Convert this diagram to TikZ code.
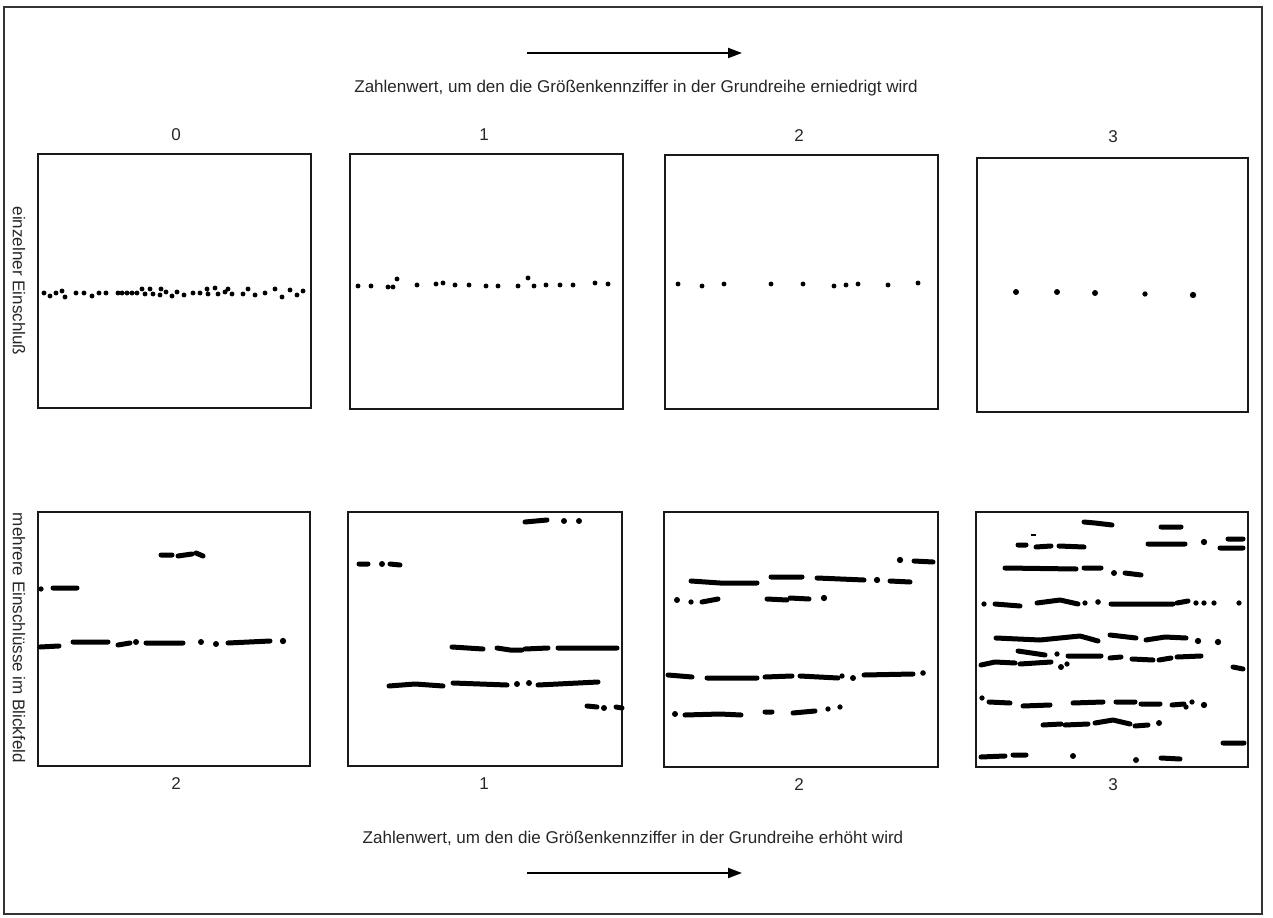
\documentclass[tikz,border=0pt]{standalone}
\usepackage{fontspec}
\setmainfont{Liberation Sans}
\usepackage{tikz}
\usetikzlibrary{arrows.meta}

\tikzset{
  rahmen/.style={draw=black!80, line width=0.04cm},
  feld/.style={draw=black!90, line width=0.05cm},
  zeile/.style={line width=0.1cm, line cap=round, line join=round},
  pfeil/.style={line width=0.04cm, -{Triangle[length=2.8mm,width=2mm]}},
  beschr/.style={text=black!85, font=\fontsize{9.7}{11}\selectfont, inner sep=0pt},
}

\begin{document}
\begin{tikzpicture}[x=0.02cm, y=-0.02cm]
\useasboundingbox (0,0) rectangle (1273,918);
\draw[rahmen] (4,7) rectangle (1262,914);
% Pfeile und Achsentexte
\coordinate (pfeilA) at (527,53);
\coordinate (pfeilB) at (742,53);
\coordinate (pfeilC) at (527,873);
\coordinate (pfeilD) at (742,873);
\draw[pfeil] (pfeilA) -- (pfeilB);
\draw[pfeil] (pfeilC) -- (pfeilD);
\node[beschr] (erniedrigt) at (636,88) {Zahlenwert, um den die Größenkennziffer in der Grundreihe erniedrigt wird};
\node[beschr] (erhoeht) at (633,838) {Zahlenwert, um den die Größenkennziffer in der Grundreihe erhöht wird};
\node[beschr, rotate=-90] (einzeln) at (19,281) {einzelner Einschluß};
\node[beschr, rotate=-90] (mehrere) at (19,638) {mehrere Einschlüsse im Blickfeld};
\node[beschr] (oben0) at (176,135) {0};
\node[beschr] (oben1) at (484,135) {1};
\node[beschr] (oben2) at (799,136) {2};
\node[beschr] (oben3) at (1113,137) {3};
\node[beschr] (unten0) at (176,784) {2};
\node[beschr] (unten1) at (484,784) {1};
\node[beschr] (unten2) at (799,785) {2};
\node[beschr] (unten3) at (1113,785) {3};
% Blickfelder
\draw[feld] (38,154) rectangle (311,408);
\draw[feld] (350,154) rectangle (623,409);
\draw[feld] (665,155) rectangle (938,409);
\draw[feld] (977,158) rectangle (1248,412);
\draw[feld] (38,512) rectangle (310,766);
\draw[feld] (348,512) rectangle (622,766);
\draw[feld] (664,512) rectangle (938,767);
\draw[feld] (976,512) rectangle (1248,767);
% einzelner Einschluss
\fill (44,293) circle (1.4pt) (50,296) circle (1.4pt) (56,293) circle (1.4pt) (62,291) circle (1.4pt)
  (65,297) circle (1.4pt) (76,293) circle (1.4pt) (84,293) circle (1.4pt) (92,296) circle (1.4pt)
  (99,293) circle (1.4pt) (106,293) circle (1.4pt) (118,293) circle (1.4pt) (122,293) circle (1.4pt)
  (127,293) circle (1.4pt) (132,293) circle (1.4pt) (137,293) circle (1.4pt) (142,289) circle (1.4pt)
  (145,294) circle (1.4pt) (150,289) circle (1.4pt) (153,294) circle (1.4pt) (161,289) circle (1.4pt)
  (160,295) circle (1.4pt) (166,292) circle (1.4pt) (172,296) circle (1.4pt) (177,292) circle (1.4pt)
  (184,295) circle (1.4pt) (193,293) circle (1.4pt) (200,293) circle (1.4pt) (207,289) circle (1.4pt)
  (208,294) circle (1.4pt) (215,288) circle (1.4pt) (218,294) circle (1.4pt) (225,292) circle (1.4pt)
  (228,289) circle (1.4pt) (232,294) circle (1.4pt) (243,294) circle (1.4pt) (248,289) circle (1.4pt)
  (255,295) circle (1.4pt) (265,293) circle (1.4pt) (275,289) circle (1.4pt) (282,297) circle (1.4pt)
  (290,290) circle (1.4pt) (297,295) circle (1.4pt) (303,291) circle (1.4pt);
\fill (358,286) circle (1.4pt) (371,286) circle (1.4pt) (388,287) circle (1.4pt) (393,287) circle (1.4pt)
  (397,279) circle (1.4pt) (417,285) circle (1.4pt) (436,284) circle (1.4pt) (443,283) circle (1.4pt)
  (455,285) circle (1.4pt) (469,285) circle (1.4pt) (486,286) circle (1.4pt) (498,286) circle (1.4pt)
  (518,286) circle (1.4pt) (528,278) circle (1.4pt) (534,286) circle (1.4pt) (546,285) circle (1.4pt)
  (560,285) circle (1.4pt) (573,285) circle (1.4pt) (595,283) circle (1.4pt) (608,284) circle (1.4pt);
\fill (678,284) circle (1.4pt) (702,286) circle (1.4pt) (724,284) circle (1.4pt) (771,284) circle (1.4pt)
  (803,284) circle (1.4pt) (834,286) circle (1.4pt) (846,285) circle (1.4pt) (858,284) circle (1.4pt)
  (888,285) circle (1.4pt) (918,283) circle (1.4pt);
\fill (1016,292) circle (1.7pt) (1057,292) circle (1.7pt) (1095,293) circle (1.7pt)
  (1145,294) circle (1.5pt) (1193,295) circle (1.8pt);
% mehrere Einschluesse
\draw[zeile] (161,555) -- (172,555) (178,556) -- (192,554) (196,553) -- (203,556)
  (53,588) -- (77,588)
  (40,647) -- (59,646) (73,642) -- (108,642) (118,645) -- (130,643) (146,643) -- (183,643)
  (228,643) -- (270,641);
\fill (41,589) circle (1.5pt) (136,642) circle (1.7pt) (201,642) circle (1.7pt)
  (216,644) circle (1.7pt) (283,641) circle (1.8pt);
\draw[zeile] (525,522) -- (547,520)
  (359,564) -- (368,564) (390,564) -- (400,565)
  (452,647) -- (483,649) (497,648) -- (510,650) -- (522,650) (525,649) -- (548,648) (558,648) -- (617,648)
  (389,686) -- (415,684) -- (443,686) (453,683) -- (507,685) (538,685) -- (598,682)
  (587,706) -- (597,707) (616,707) -- (622,708);
\fill (564,521) circle (1.7pt) (579,521) circle (1.7pt) (382,564) circle (1.7pt)
  (517,684) circle (1.7pt) (529,683) circle (1.7pt) (604,708) circle (1.7pt);
\draw[zeile] (914,561) -- (933,562)
  (691,581) -- (720,583) -- (757,583) (771,577) -- (802,577) (817,578) -- (864,580) (890,581) -- (910,582)
  (702,602) -- (718,599) (767,599) -- (787,600) (790,598) -- (809,599)
  (668,675) -- (692,677) (707,678) -- (757,678) (765,677) -- (792,676) (800,676) -- (838,678)
  (864,675) -- (913,674)
  (685,715) -- (720,714) -- (741,715) (765,712) -- (772,712) (793,713) -- (815,711);
\fill (900,560) circle (1.8pt) (877,580) circle (1.8pt) (677,600) circle (1.7pt) (691,602) circle (1.5pt)
  (824,598) circle (1.8pt) (842,676) circle (1.5pt) (853,678) circle (1.7pt) (923,673) circle (1.6pt)
  (675,714) circle (1.7pt) (828,709) circle (1.5pt) (840,707) circle (1.5pt);
\draw[line width=0.025cm] (1031,535) -- (1036,535);
\draw[zeile] (1084,522) -- (1095,523) -- (1112,525) (1161,527) -- (1181,527)
  (1018,545) -- (1026,545) (1036,547) -- (1051,546) (1059,546) -- (1084,547) (1148,544) -- (1185,544)
  (1228,539) -- (1243,539) (1220,548) -- (1243,548)
  (1005,568) -- (1076,569) (1084,568) -- (1101,568) (1125,573) -- (1141,575)
  (995,604) -- (1020,606) (1037,603) -- (1060,600) -- (1078,604) (1111,604) -- (1173,604) (1177,603) -- (1188,601)
  (996,638) -- (1040,640) -- (1080,636) -- (1098,641) (1110,635) -- (1136,638) (1146,640) -- (1165,637) -- (1186,638)
  (1018,651) -- (1045,655) (1068,656) -- (1101,656) (1110,658) -- (1121,657) (1132,659) -- (1153,660)
  (1159,660) -- (1171,658) (1177,657) -- (1201,656)
  (981,665) -- (995,662) -- (1015,663) (1020,664) -- (1051,662) (1233,667) -- (1243,669)
  (989,702) -- (1010,703) (1023,706) -- (1050,705) (1073,703) -- (1103,702) (1116,702) -- (1135,702)
  (1141,704) -- (1160,704) (1172,705) -- (1184,704)
  (1043,725) -- (1061,724) (1065,725) -- (1088,724) (1095,723) -- (1113,720) -- (1130,724) (1135,726) -- (1148,725)
  (1223,743) -- (1244,743)
  (981,757) -- (1005,756) (1013,755) -- (1026,755) (1161,758) -- (1180,759);
\fill (1204,542) circle (1.8pt) (1114,573) circle (1.7pt) (984,604) circle (1.5pt) (1085,603) circle (1.5pt)
  (1098,602) circle (1.6pt) (1196,603) circle (1.5pt) (1204,603) circle (1.5pt) (1214,603) circle (1.5pt)
  (1239,603) circle (1.5pt) (1198,641) circle (1.8pt) (1218,642) circle (1.8pt) (1057,654) circle (1.5pt)
  (1061,667) circle (1.7pt) (1067,664) circle (1.5pt) (982,698) circle (1.5pt) (1186,707) circle (1.5pt)
  (1192,702) circle (1.5pt) (1204,705) circle (1.8pt) (1159,723) circle (1.7pt) (1073,756) circle (1.7pt)
  (1136,760) circle (1.7pt);
\end{tikzpicture}
\end{document}
